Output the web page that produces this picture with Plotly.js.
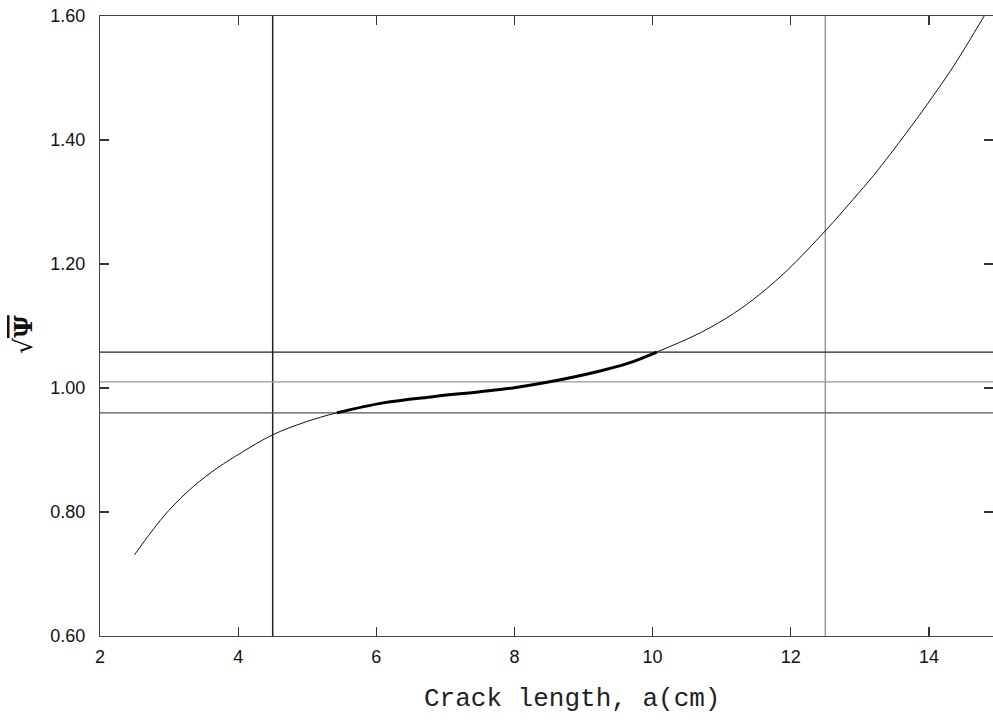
<!DOCTYPE html>
<html>
<head>
<meta charset="utf-8">
<script src="https://cdn.plot.ly/plotly-3.0.1.min.js"></script>
<style>
html, body { margin: 0; padding: 0; overflow: hidden; background: #fff; }
#chart { width: 993px; height: 724px; }
</style>
</head>
<body>
<div id="chart"></div>
<script>
// Crack length a (cm) and sqrt(psi)
const crackLength = [2.5, 2.75, 3.0, 3.35, 3.7, 4.05, 4.5, 4.97, 5.43, 6.1, 6.82, 7.5, 8.0, 8.51, 9.24, 9.65, 10.06, 10.69, 11.17, 11.55, 11.95, 12.5, 12.9, 13.2, 13.67, 14.01, 14.35, 14.8];
const sqrtPsi     = [0.731, 0.769, 0.803, 0.841, 0.871, 0.896, 0.9245, 0.945, 0.960, 0.976, 0.986, 0.994, 1.0005, 1.010, 1.0275, 1.040, 1.058, 1.089, 1.120, 1.151, 1.190, 1.2535, 1.304, 1.343, 1.411, 1.463, 1.518, 1.600];
// highlighted (thick) range of the curve
const thickRange = [5.43, 10.06];
// reference lines
const vLines = [4.5, 12.5];
const vColors = ['#222222', '#9a9a9a'];
const hLines = [1.058, 1.01, 0.96];
const hColors = ['#222222', '#9a9a9a', '#555555'];
const xTicks = [2, 4, 6, 8, 10, 12, 14];
const yTicks = [0.6, 0.8, 1.0, 1.2, 1.4, 1.6];

const thickX = [], thickY = [];
crackLength.forEach((a, i) => {
  if (a >= thickRange[0] && a <= thickRange[1]) { thickX.push(a); thickY.push(sqrtPsi[i]); }
});

const traces = [
  { x: crackLength, y: sqrtPsi, type: 'scatter', mode: 'lines',
    line: { color: '#111', width: 1, shape: 'spline', smoothing: 1 }, hoverinfo: 'x+y' },
  { x: thickX, y: thickY, type: 'scatter', mode: 'lines',
    line: { color: '#000', width: 3, shape: 'spline', smoothing: 1 }, hoverinfo: 'x+y' }
];

const shapes = [];
vLines.forEach((v, i) => shapes.push({ type: 'line', xref: 'x', yref: 'paper', x0: v, x1: v, y0: 0, y1: 1,
  line: { color: vColors[i], width: 1.5 }, layer: 'below' }));
hLines.forEach((h, i) => shapes.push({ type: 'line', xref: 'paper', yref: 'y', x0: 0, x1: 1, y0: h, y1: h,
  line: { color: hColors[i], width: 1.3 }, layer: 'below' }));

const tickFont = { family: 'Liberation Sans, Arial, sans-serif', size: 18, color: '#111' };
const axisCommon = {
  showgrid: false, zeroline: false, showline: true, linecolor: '#444', linewidth: 1.2,
  ticks: 'inside', ticklen: 9, tickwidth: 1.2, tickcolor: '#333', tickfont: tickFont
};

const xRange = [2, 2 + 893 * 13 / 898];

const layout = {
  width: 993, height: 724,
  margin: { l: 100, r: 0, t: 16, b: 88 },
  paper_bgcolor: '#fff', plot_bgcolor: '#fff',
  showlegend: false,
  xaxis: Object.assign({}, axisCommon, { range: xRange, mirror: 'ticks', tickmode: 'array', tickvals: xTicks,
    ticktext: xTicks.map(String), ticklabelstandoff: 4 }),
  yaxis: Object.assign({}, axisCommon, { range: [0.6, 1.6], mirror: false, tickmode: 'array', tickvals: yTicks,
    ticktext: yTicks.map(v => v.toFixed(2)), ticklabelstandoff: 10 }),
  yaxis2: { overlaying: 'y', side: 'right', range: [0.6, 1.6], tickmode: 'array', tickvals: yTicks,
    showticklabels: false, showline: false, showgrid: false, zeroline: false,
    ticks: 'inside', ticklen: 9, tickwidth: 1.2, tickcolor: '#333' },
  shapes: shapes,
  annotations: [
    { text: 'Crack length, a(cm)', xref: 'paper', yref: 'paper', x: (572 - 100) / 893, y: -0.101,
      xanchor: 'center', yanchor: 'middle', showarrow: false,
      font: { family: 'Liberation Mono, Courier New, monospace', size: 26, color: '#222' } },
    { text: "√<span style='text-decoration:overline'><b>Ψ</b></span>", xref: 'paper', yref: 'paper',
      x: (23 - 100) / 893, y: (636 - 335) / 620, textangle: -90,
      xanchor: 'center', yanchor: 'middle', showarrow: false,
      font: { family: 'DejaVu Serif, serif', size: 25, color: '#111' } }
  ]
};

// invisible trace to activate the right-side tick axis
traces.push({ x: [xRange[0]], y: [0.6], yaxis: 'y2', type: 'scatter', mode: 'markers',
  marker: { opacity: 0 }, hoverinfo: 'skip', showlegend: false });

Plotly.newPlot('chart', traces, layout, { displayModeBar: false, staticPlot: true });
</script>
</body>
</html>
